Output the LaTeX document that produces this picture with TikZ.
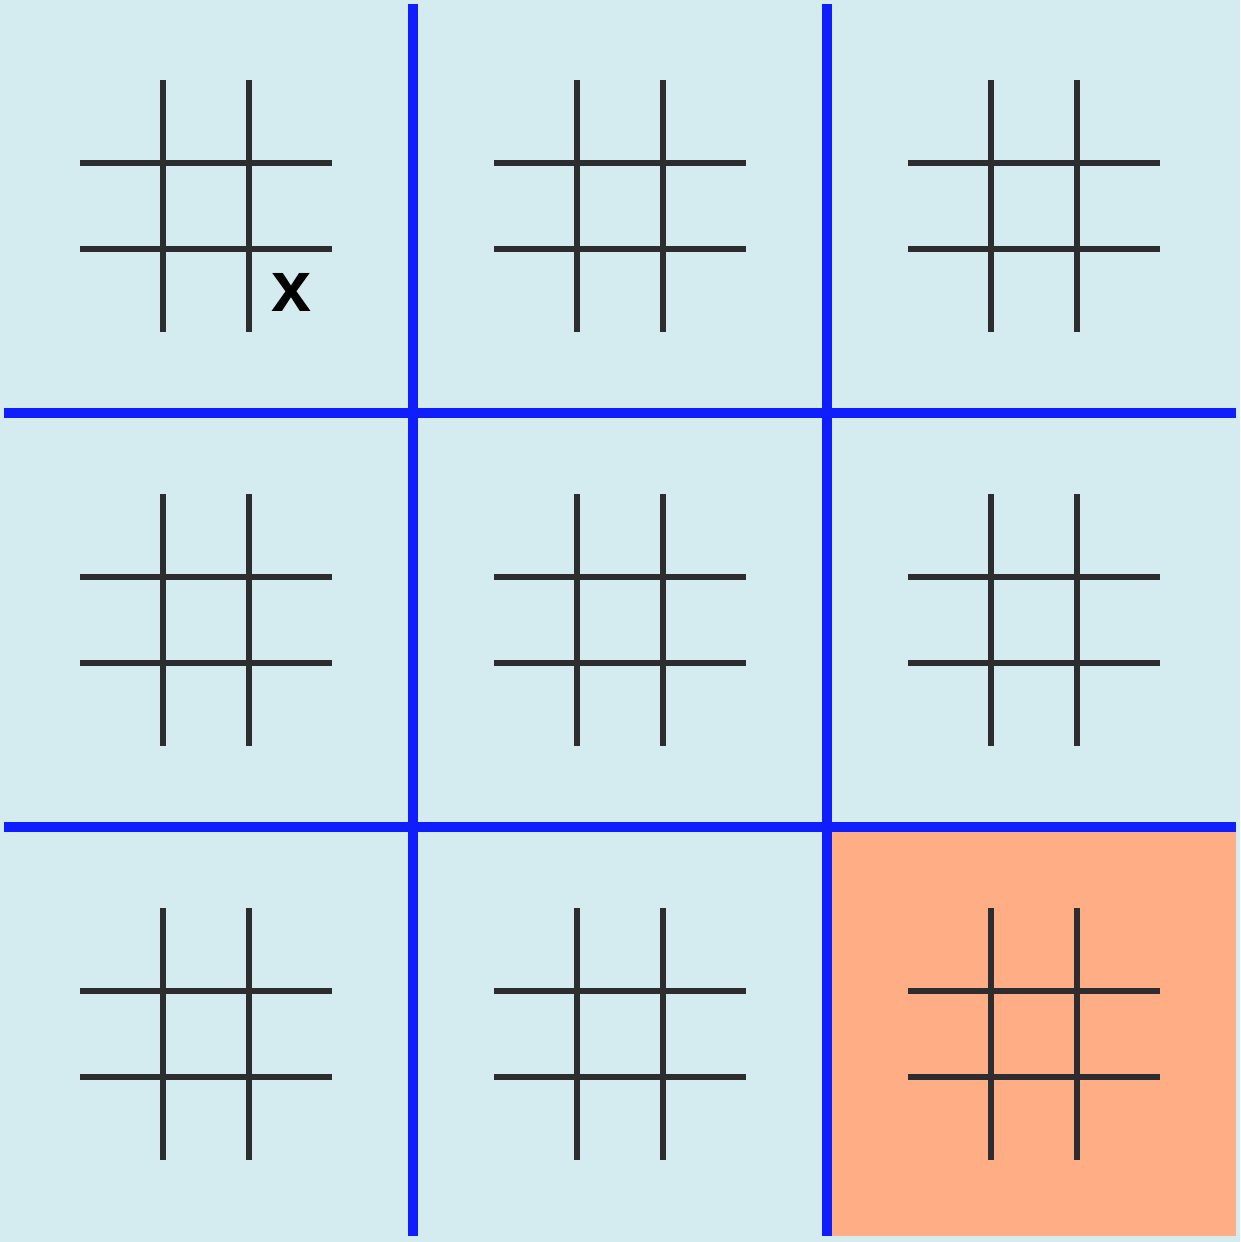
\documentclass[tikz,border=0pt]{standalone}
\usepackage{fontspec}
\setmainfont{Liberation Sans}
\definecolor{bgcol}{HTML}{D4EBEF}
\definecolor{bluecol}{HTML}{0F1EFF}
\definecolor{orangecol}{HTML}{FFAD85}
\definecolor{darkcol}{HTML}{2D2D30}
\begin{document}
\begin{tikzpicture}[x=1pt,y=-1pt,
  minor/.style={draw=darkcol,line width=6pt},
  major/.style={draw=bluecol,line width=10pt},
  markstyle/.style={font=\bfseries\fontsize{72}{72}\selectfont,inner sep=0pt,text=black}]
\fill[bgcol] (0,0) rectangle (1240,1242);
\useasboundingbox (0,0) rectangle (1240,1242);
\fill[orangecol] (827,827) rectangle (1236,1236);
\foreach \cx in {0,414,828}{
  \foreach \cy in {0,414,828}{
    \draw[minor] (\cx+163,\cy+80) -- (\cx+163,\cy+332);
    \draw[minor] (\cx+249,\cy+80) -- (\cx+249,\cy+332);
    \draw[minor] (\cx+80,\cy+163) -- (\cx+332,\cy+163);
    \draw[minor] (\cx+80,\cy+249) -- (\cx+332,\cy+249);
  }
}
\draw[major] (413,4) -- (413,1236);
\draw[major] (827,4) -- (827,1236);
\draw[major] (4,413) -- (1236,413);
\draw[major] (4,827) -- (1236,827);
\node[markstyle] (mark) at (292,292) {x};
\end{tikzpicture}
\end{document}
